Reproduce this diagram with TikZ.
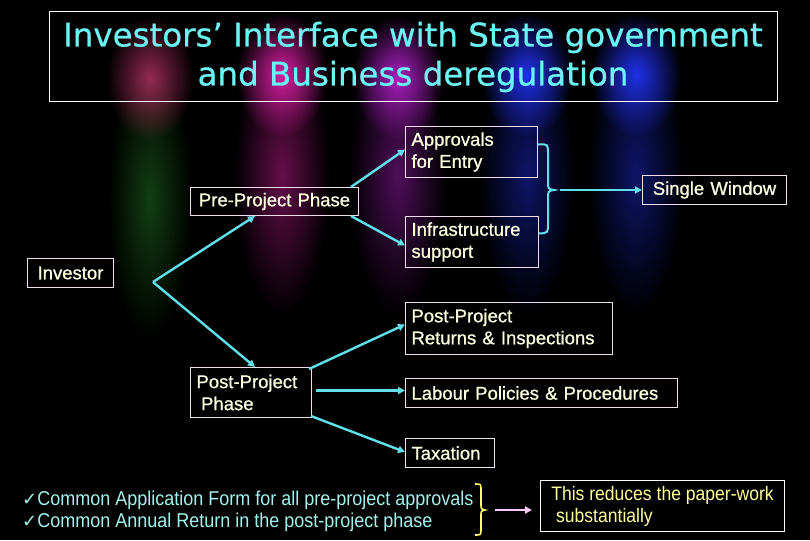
\documentclass[tikz,border=0pt]{standalone}
\usepackage{fontspec}
\setmainfont{Liberation Sans}
\newfontfamily\titlefont[FakeBold=0.6]{DejaVu Sans}
\newfontfamily\boxfam[FakeBold=0.8]{Liberation Sans}
\newfontfamily\narrowfam[FakeStretch=0.9]{Liberation Sans}
\newfontfamily\symfam{DejaVu Sans}
\usetikzlibrary{arrows.meta,fadings,calc}
\tikzfading[name=lampfade, inner color=transparent!0, outer color=transparent!100]
\definecolor{conncyan}{HTML}{5FE0EA}
\definecolor{titlecyan}{HTML}{6CF4F4}
\definecolor{boxline}{HTML}{F2DCF0}
\definecolor{boxtext}{HTML}{FFFFE2}
\definecolor{bulcyan}{HTML}{A2F2EE}
\definecolor{notetext}{HTML}{FFFF99}
\definecolor{braceyellow}{HTML}{FFFF66}
\definecolor{pinkarrow}{HTML}{FFC8FF}
\definecolor{lred}{HTML}{B03060}
\definecolor{lgreen}{HTML}{1E6A1E}
\definecolor{lmag}{HTML}{E020A8}
\definecolor{lpurp}{HTML}{B020C8}
\definecolor{lblue}{HTML}{2030E8}
\tikzset{
  bx/.style={draw=boxline, line width=1pt, text=boxtext, align=left,
    font=\boxfam\fontsize{18.5}{22}\selectfont, inner xsep=6pt, inner ysep=0pt,
    anchor=north west},
  conn/.style={draw=conncyan, line width=2.4pt, -{Triangle[length=7pt,width=7pt]}, shorten >=0pt},
  lamp/.style={fill=#1, path fading=lampfade},
}
\begin{document}
\begin{tikzpicture}[x=1pt,y=-1pt]
\fill[black] (0,0) rectangle (810,540);
\useasboundingbox (0,0) rectangle (810,540);
% spotlights
\fill[lamp=lgreen, opacity=0.6] (150,200) ellipse (42 and 140);
\fill[lamp=lred, opacity=0.85] (150,78) ellipse (44 and 62);
\fill[lamp=lmag, opacity=0.45] (282,175) ellipse (48 and 140);
\fill[lamp=lmag, opacity=0.95] (282,75) ellipse (46 and 62);
\fill[lamp=lpurp, opacity=0.45] (398,175) ellipse (48 and 140);
\fill[lamp=lpurp, opacity=0.95] (398,78) ellipse (46 and 62);
\fill[lamp=lblue, opacity=0.45] (527,175) ellipse (48 and 140);
\fill[lamp=lblue, opacity=1] (527,75) ellipse (46 and 62);
\fill[lamp=lblue, opacity=0.45] (636,175) ellipse (48 and 140);
\fill[lamp=lblue, opacity=1] (636,75) ellipse (46 and 62);
% title
\node[draw=white, line width=1pt, minimum width=728pt, minimum height=90pt, align=center,
  text=titlecyan, font=\titlefont\fontsize{32.5}{39}\selectfont] (title) at (413,57)
  {Investors’ Interface with State government\\and Business deregulation};
% boxes
\node[bx, text width=120pt, minimum height=51pt] (appr) at (405,126) {Approvals\\for Entry};
\node[bx, text width=132pt, minimum height=29pt, align=center] (sw) at (642,175) {Single Window};
\node[bx, text width=156pt, minimum height=28pt, align=center] (pre) at (190,187) {Pre-Project Phase};
\node[bx, text width=121pt, minimum height=51pt] (infra) at (405,216) {Infrastructure\\support};
\node[bx, text width=74pt, minimum height=29pt, align=center] (inv) at (27,258) {Investor};
\node[bx, text width=195pt, minimum height=52pt] (ret) at (405,302) {Post-Project\\Returns \& Inspections};
\node[bx, text width=109pt, minimum height=50pt] (post) at (190,367) {Post-Project\\\hspace*{0.25em}Phase};
\node[bx, text width=260pt, minimum height=29pt] (lab) at (405,378) {Labour Policies \& Procedures};
\node[bx, text width=77pt, minimum height=29pt] (tax) at (405,438) {Taxation};
% connectors
\coordinate (v) at (153,282);
\draw[conn] (v) -- ([xshift=65pt]pre.south west);
\draw[conn] (v) -- ([xshift=65pt]post.north west);
\draw[conn] ([xshift=-8pt]pre.north east) -- ([yshift=2.5pt]appr.west);
\draw[conn] ([xshift=-8pt]pre.south east) -- ([yshift=-3.5pt]infra.west);
\coordinate (btop) at ([yshift=7.5pt]appr.east);
\coordinate (bbot) at ([yshift=8.5pt]infra.east);
\coordinate (btip) at (554,190);
\draw[draw=conncyan, line width=2pt] (btop) .. controls (548,144) .. (548,154) -- (548,181)
  .. controls (548,189) .. (btip) .. controls (548,191) .. (548,199) -- (548,223)
  .. controls (548,233) .. (bbot);
\draw[conn, line width=2pt] ([xshift=6pt]btip) -- (btip -| sw.west);
\draw[conn] ([xshift=-3pt,yshift=-2pt]post.north east) -- ([yshift=4pt]ret.west);
\draw[conn] ([xshift=4pt,yshift=2pt]post.east) -- ([yshift=2pt]post.east -| lab.west);
\draw[conn] ([xshift=-1pt,yshift=2pt]post.south east) -- ([yshift=1pt]tax.west);
% bottom
\node[anchor=west, align=left, inner sep=0pt, text=bulcyan,
  font=\narrowfam\fontsize{20}{22}\selectfont] (bul) at (22,511)
  {{\symfam\fontsize{18}{22}\selectfont ✓}Common Application Form for all pre-project approvals\\
   {\symfam\fontsize{18}{22}\selectfont ✓}Common Annual Return in the post-project phase};
\node[draw=white, line width=1pt, anchor=north west, minimum width=244pt, minimum height=51pt,
  inner xsep=4pt, inner ysep=0pt, align=left, text=notetext,
  font=\narrowfam\fontsize{19.5}{22}\selectfont] (note) at (540,480)
  {This reduces the paper-work\\\hspace*{0.25em}substantially};
\coordinate (ybt) at (475,484);
\coordinate (ytip) at (485,510);
\coordinate (ybb) at (475,535);
\draw[draw=braceyellow, line width=1.6pt] (ybt) .. controls (481,484) .. (481,490) -- (481,504)
  .. controls (481,509) .. (ytip) .. controls (481,511) .. (481,516) -- (481,529)
  .. controls (481,535) .. (ybb);
\draw[draw=pinkarrow, line width=2pt, -{Triangle[length=7pt,width=7pt]}]
  ([xshift=10pt]ytip) -- ([xshift=-8pt]ytip -| note.west);
\end{tikzpicture}
\end{document}
